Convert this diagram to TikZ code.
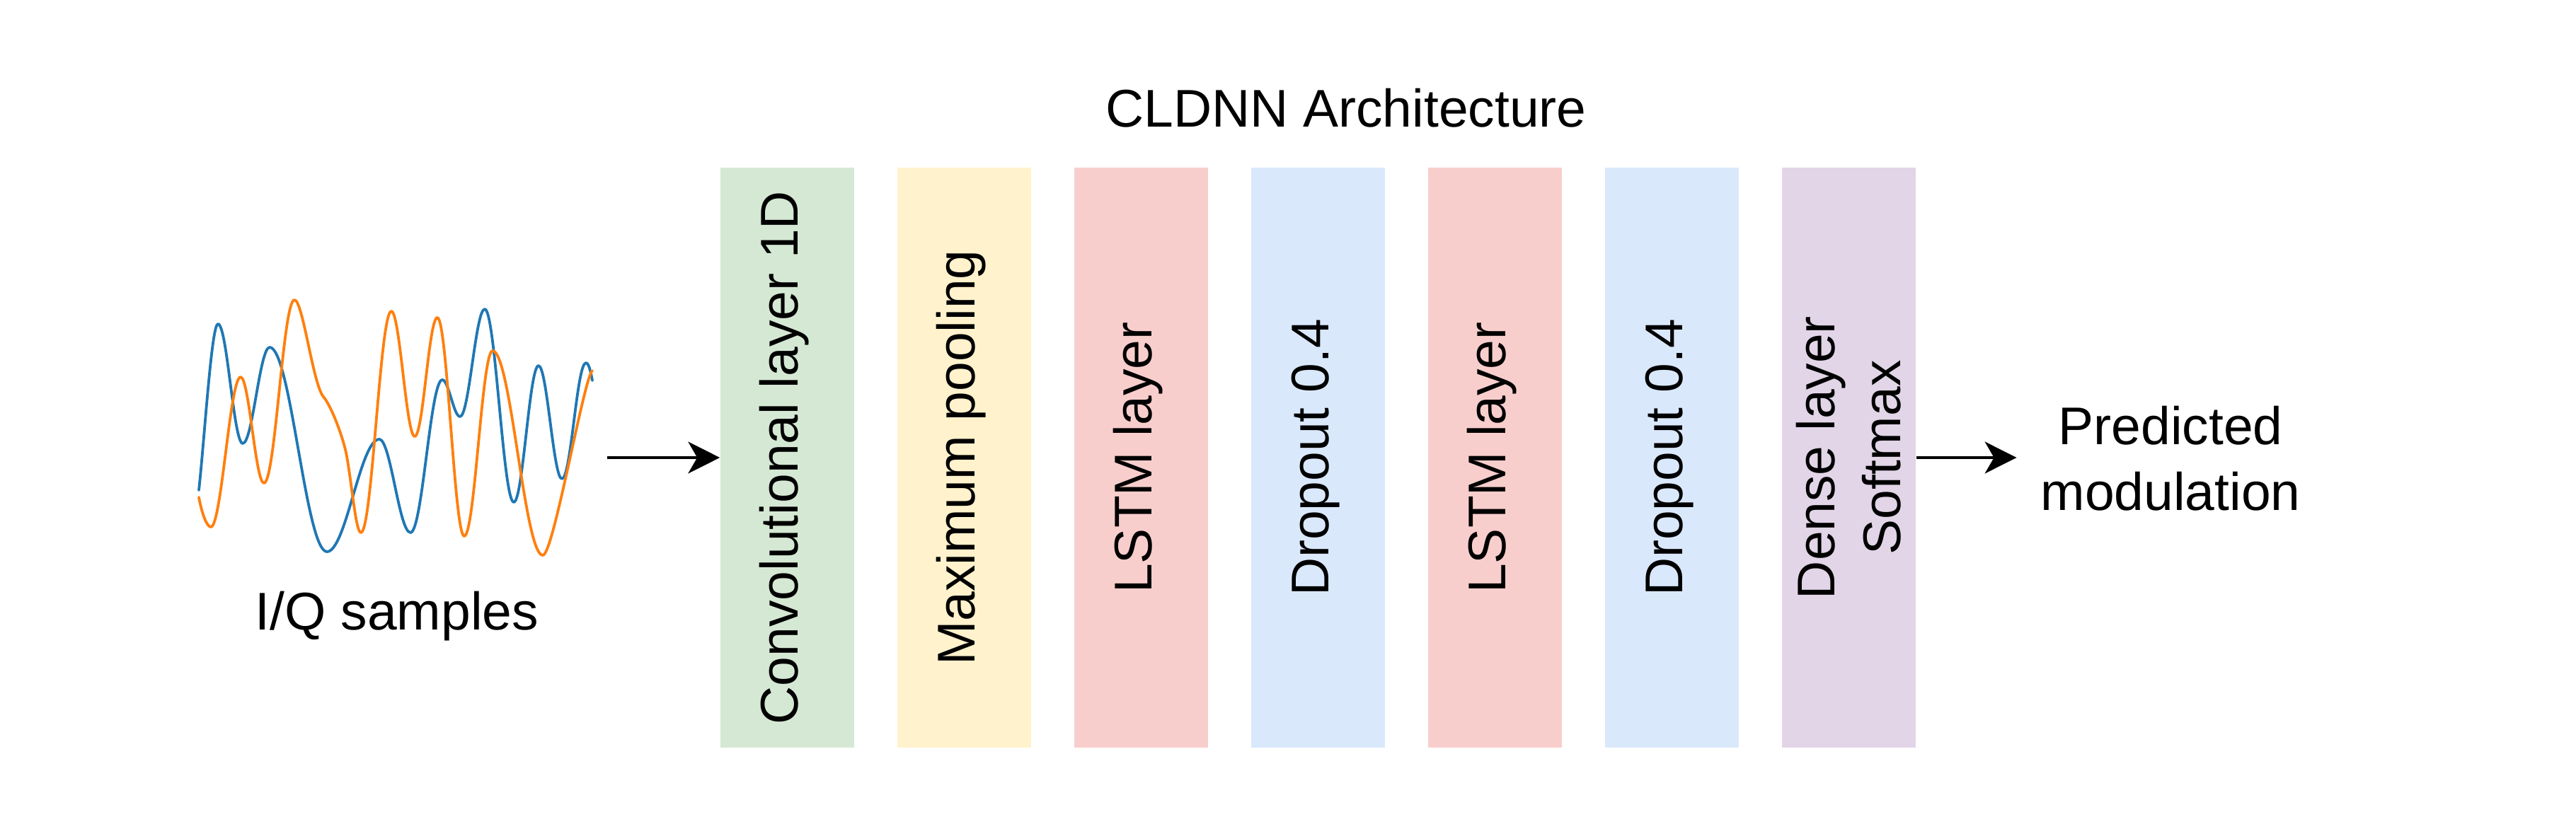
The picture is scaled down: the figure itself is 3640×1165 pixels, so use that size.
\documentclass[tikz,border=0pt]{standalone}
\usepackage{fontspec}
\setmainfont{Liberation Sans}
\usetikzlibrary{arrows.meta}

\begin{document}
\begin{tikzpicture}[x=0.25pt,y=0.25pt,yscale=-1,xscale=1,
    every node/.style={font=\fontsize{18.75pt}{23.3pt}\selectfont},
    layerbox/.style={rectangle, minimum width=47.25pt, minimum height=205pt, inner sep=0pt},
    layertext/.style={rotate=90, inner sep=0pt, text height=1em, text depth=0.25em},
    flowarrow/.style={line width=1.1pt, -{Stealth[length=11.2pt,width=11.2pt,inset=3.2pt]}},
    iline/.style={line width=0.95pt, line join=round, line cap=round},
    ]
        \useasboundingbox (0,0) rectangle (3640,1165);
        %Curve Lines [id:blue I samples]
        \draw [iline, color={rgb, 255:red, 31; green, 119; blue, 180 }]   (281,693) .. controls (289,620) and (299,458) .. (308,458) .. controls (321,458) and (330,627) .. (343,627) .. controls (357,627) and (367,491) .. (381,491) .. controls (411,491) and (432,780) .. (462,780) .. controls (489,780) and (509,621) .. (536,621) .. controls (552,621) and (564,753) .. (580,753) .. controls (597,753) and (608,537) .. (625,537) .. controls (634,537) and (641,589) .. (650,589) .. controls (663,589) and (672,437) .. (685,437) .. controls (700,437) and (711,710) .. (726,710) .. controls (739,710) and (748,517) .. (761,517) .. controls (773,517) and (782,677) .. (794,677) .. controls (807,677) and (815,513) .. (828,513) .. controls (832,513) and (835,527) .. (837,538) ;
        %Curve Lines [id:orange Q samples]
        \draw [iline, color={rgb, 255:red, 255; green, 127; blue, 14 }]   (281,703) .. controls (285,725) and (292,745) .. (298,745) .. controls (313,745) and (325,533) .. (340,533) .. controls (352,533) and (361,683) .. (373,683) .. controls (389,683) and (400,424) .. (416,424) .. controls (428,424) and (442,543) .. (457,561) .. controls (469,575) and (486,622) .. (490,645) .. controls (498,691) and (503,753) .. (510,753) .. controls (526,753) and (537,440) .. (553,440) .. controls (565,440) and (574,617) .. (586,617) .. controls (598,617) and (606,449) .. (618,449) .. controls (632,449) and (642,758) .. (656,758) .. controls (671,758) and (681,496) .. (696,496) .. controls (722,496) and (741,785) .. (767,785) .. controls (782,785) and (825,534) .. (837,524) ;
        
        %Shape: Rectangle [id:conv]
        \node [layerbox, fill={rgb, 255:red, 213; green, 232; blue, 212 }] (conv) at (1112.5,647) {};
        %Shape: Rectangle [id:pool]
        \node [layerbox, fill={rgb, 255:red, 255; green, 242; blue, 204 }] (pool) at (1362.5,647) {};
        %Shape: Rectangle [id:lstma]
        \node [layerbox, fill={rgb, 255:red, 248; green, 206; blue, 204 }] (lstma) at (1612.5,647) {};
        %Shape: Rectangle [id:dropa]
        \node [layerbox, fill={rgb, 255:red, 218; green, 232; blue, 252 }] (dropa) at (1862.5,647) {};
        %Shape: Rectangle [id:lstmb]
        \node [layerbox, fill={rgb, 255:red, 248; green, 206; blue, 204 }] (lstmb) at (2112.5,647) {};
        %Shape: Rectangle [id:dropb]
        \node [layerbox, fill={rgb, 255:red, 218; green, 232; blue, 252 }] (dropb) at (2362.5,647) {};
        %Shape: Rectangle [id:dense]
        \node [layerbox, fill={rgb, 255:red, 225; green, 213; blue, 231 }] (dense) at (2612.5,647) {};
        
        % Text Node
        \node [layertext] (convtext) at (conv) {Convolutional layer 1D};
        % Text Node
        \node [layertext] (pooltext) at (pool) {Maximum pooling};
        % Text Node
        \node [layertext] (lstmatext) at (lstma) {LSTM layer};
        % Text Node
        \node [layertext] (dropatext) at (dropa) {Dropout 0.4};
        % Text Node
        \node [layertext] (lstmbtext) at (lstmb) {LSTM layer};
        % Text Node
        \node [layertext] (dropbtext) at (dropb) {Dropout 0.4};
        % Text Node
        \node [rotate=90, inner sep=0pt, align=center] (densetext) at (dense) {Dense layer\\Softmax};
        % Text Node
        \node [anchor=base, inner sep=0pt] (title) at (1902,180) {CLDNN Architecture};
        % Text Node
        \node [anchor=base, inner sep=0pt] (iq) at (561,890) {I/Q samples};
        % Text Node
        \node [align=center, inner xsep=8.3pt, inner ysep=0pt] (pred) at (3067,648) {Predicted\\modulation};
        
        %Straight Lines [id:arrows]
        \coordinate (iqout) at (858,647);
        \draw [flowarrow] (iqout) -- (conv);
        \draw [flowarrow] (dense.east) -- (pred.west |- dense.east);
\end{tikzpicture}
\end{document}
